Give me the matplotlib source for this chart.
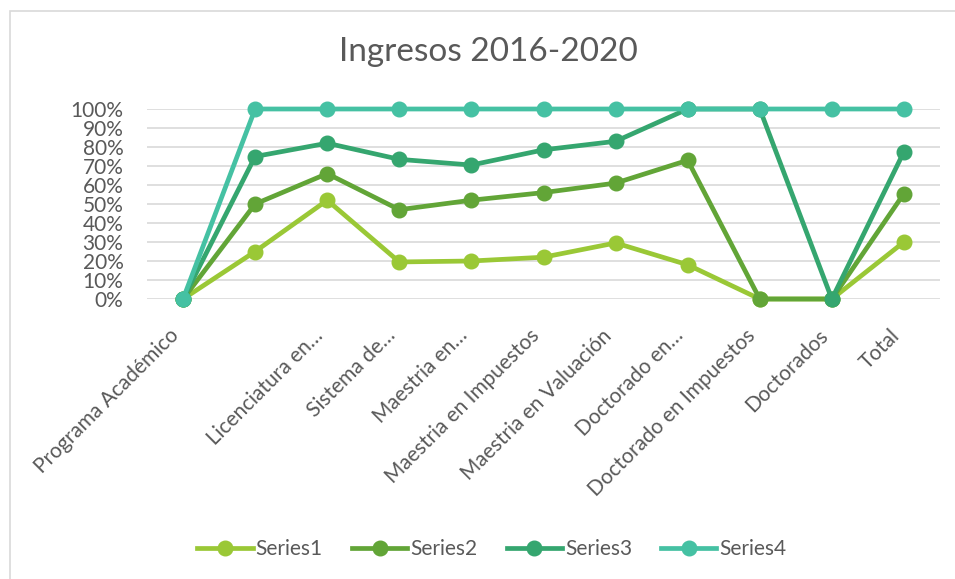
import matplotlib.pyplot as plt
from matplotlib.patches import Rectangle
from matplotlib.ticker import PercentFormatter

plt.rcParams['font.family'] = ['Lato', 'DejaVu Sans']

# Category labels (second category has no label in the original)
programas = ['Programa Académico', '', 'Licenciatura en…', 'Sistema de…',
             'Maestria en…', 'Maestria en Impuestos', 'Maestria en Valuación',
             'Doctorado en…', 'Doctorado en Impuestos', 'Doctorados', 'Total']

# Values in percent
series1 = [0, 25, 52, 19.5, 20, 22, 29.5, 18, 0, 0, 30]
series2 = [0, 50, 66, 47, 52, 56, 61, 73, 0, 0, 55.5]
series3 = [0, 75, 82, 73.5, 70.5, 78.5, 83, 100, 100, 0, 77.5]
series4 = [0, 100, 100, 100, 100, 100, 100, 100, 100, 100, 100]

nombres = ['Series1', 'Series2', 'Series3', 'Series4']
colores = ['#9AC836', '#62A537', '#35A66F', '#45C1A3']

fig = plt.figure(figsize=(9.55, 5.79), dpi=100)
ax = fig.add_axes([147 / 955, 1 - 299 / 579, 793 / 955, 190 / 579])

x = range(len(programas))
for vals, nombre, c in zip([series1, series2, series3, series4], nombres, colores):
    ax.plot(x, [v / 100 for v in vals], color=c, lw=3.4, marker='o',
            markersize=10.5, label=nombre, clip_on=False, zorder=3)

ax.set_xlim(-0.5, len(programas) - 0.5)
ax.set_ylim(0, 1)
ax.set_yticks([i / 10 for i in range(11)])
ax.yaxis.set_major_formatter(PercentFormatter(1.0, decimals=0))
ax.grid(axis='y', color='#D9D9D9', lw=1.2, zorder=0)
ax.set_axisbelow(True)
for s in ax.spines.values():
    s.set_visible(False)
ax.tick_params(axis='both', length=0, labelsize=15, labelcolor='#595959')
ax.tick_params(axis='y', pad=17)
ax.tick_params(axis='x', pad=19)
ax.set_xticks(list(x))
ax.set_xticklabels(programas, rotation=45, ha='right', va='top')

fig.text(488 / 955, 1 - 52 / 579, 'Ingresos 2016-2020', ha='center', va='center',
         fontsize=24, color='#595959')

leg = fig.legend(loc='center', bbox_to_anchor=(492 / 955, 1 - 549 / 579), ncol=4,
                 frameon=False, fontsize=15, handlelength=2.65, handletextpad=0.15,
                 columnspacing=1.4, labelcolor='#595959')

# light border of the chart area
fig.patches.append(Rectangle((9.5 / 955, -0.1), 1.2, 1.1 - 11.5 / 579,
                             transform=fig.transFigure, fill=False,
                             edgecolor='#D9D9D9', lw=1.2))

fig.savefig('out.png', dpi=100)
